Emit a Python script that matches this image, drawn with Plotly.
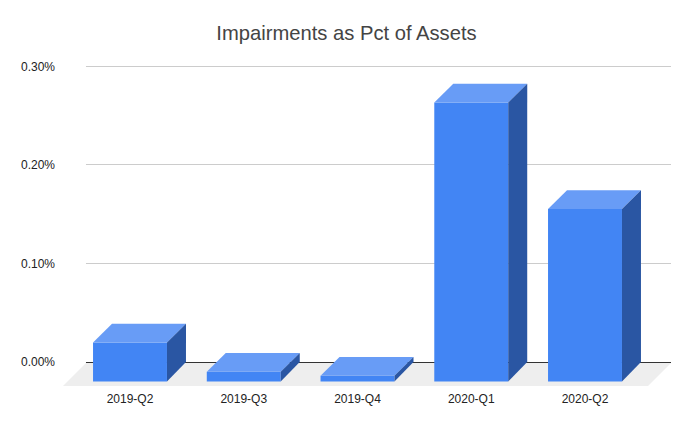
import plotly.graph_objects as go

categories = ["2019-Q2", "2019-Q3", "2019-Q4", "2020-Q1", "2020-Q2"]
values = [0.000396, 0.000098, 0.000058, 0.002830, 0.001750]
y_ticks = [0.0, 0.001, 0.002, 0.003]

TITLE = "Impairments as Pct of Assets"
BAR_W = 0.65
DX = 0.167            # bar depth, category units
DY = 0.000197         # bar depth at the floor, value units
DY_TOP = 0.000190     # bar depth at the top face, value units
FLOOR_DX = 0.202
FLOOR_DY = 0.000243
FLOOR_GAP = 0.00001   # keeps the floor clear of the baseline row
X_MIN, X_MAX = -0.589, 4.756
Y_MIN, Y_MAX = -0.000243, 0.003064
FRONT, TOP, SIDE = "#4285f4", "#689cf6", "#2a56a3"

xs = list(range(len(categories)))
fig = go.Figure()

# top faces and side faces are drawn over the front faces
for x, v in zip(xs, values):
    l, r = x - BAR_W / 2, x + BAR_W / 2
    t, b = v - DY, -DY
    fig.add_trace(go.Scatter(x=[l, r, r + DX, l + DX, l], y=[t, t, t + DY_TOP, t + DY_TOP, t],
                             fill="toself", fillcolor=TOP, mode="none",
                             hoverinfo="skip", showlegend=False))
    fig.add_trace(go.Scatter(x=[r, r + DX, r + DX, r, r], y=[t, t + DY_TOP, b + DY, b, t],
                             fill="toself", fillcolor=SIDE, mode="none",
                             hoverinfo="skip", showlegend=False))

fig.add_trace(go.Bar(x=xs, y=values, base=-DY, width=BAR_W, marker=dict(color=FRONT, line_width=0),
                     showlegend=False, hovertemplate="%{customdata}: %{y:.2%}<extra></extra>",
                     customdata=categories))

# the gridlines live on the back wall, which starts right of the floor's front-left corner
back_l, back_r = X_MIN + FLOOR_DX, X_MAX
shapes = [
    dict(type="rect", layer="between", xref="x", yref="y", line_width=0, fillcolor="white",
         x0=X_MIN, x1=back_l, y0=-FLOOR_GAP * 2, y1=Y_MAX),
    dict(type="path", layer="between", xref="x", yref="y", line_width=0, fillcolor="#eeeeee",
         path=f"M {back_l} {-FLOOR_GAP} L {back_r} {-FLOOR_GAP} "
              f"L {back_r - FLOOR_DX} {-FLOOR_DY} L {X_MIN} {-FLOOR_DY} Z"),
]

fig.update_layout(
    width=693, height=428, margin=dict(l=63, r=22, t=60, b=42),
    paper_bgcolor="white", plot_bgcolor="white", shapes=shapes,
    font=dict(family="Liberation Sans, Arial, sans-serif", size=12, color="#222222"),
    title=dict(text=TITLE, x=0.5, xanchor="center", y=0.923, yanchor="middle",
               font=dict(size=20.2, color="#444444")),
    xaxis=dict(range=[X_MIN, X_MAX], tickvals=xs, ticktext=categories, showgrid=False, zeroline=False,
               showline=False, ticks="", ticklabelstandoff=4),
    yaxis=dict(range=[Y_MIN, Y_MAX], tickvals=y_ticks, tickformat=".2%", showgrid=True, gridcolor="#cccccc",
               gridwidth=1, zeroline=True, zerolinecolor="#333333", zerolinewidth=1,
               showline=False, ticks="", ticklabelstandoff=7),
)
fig.write_html("out.html", config=dict(displayModeBar=False), post_script="document.body.style.margin='0';")
